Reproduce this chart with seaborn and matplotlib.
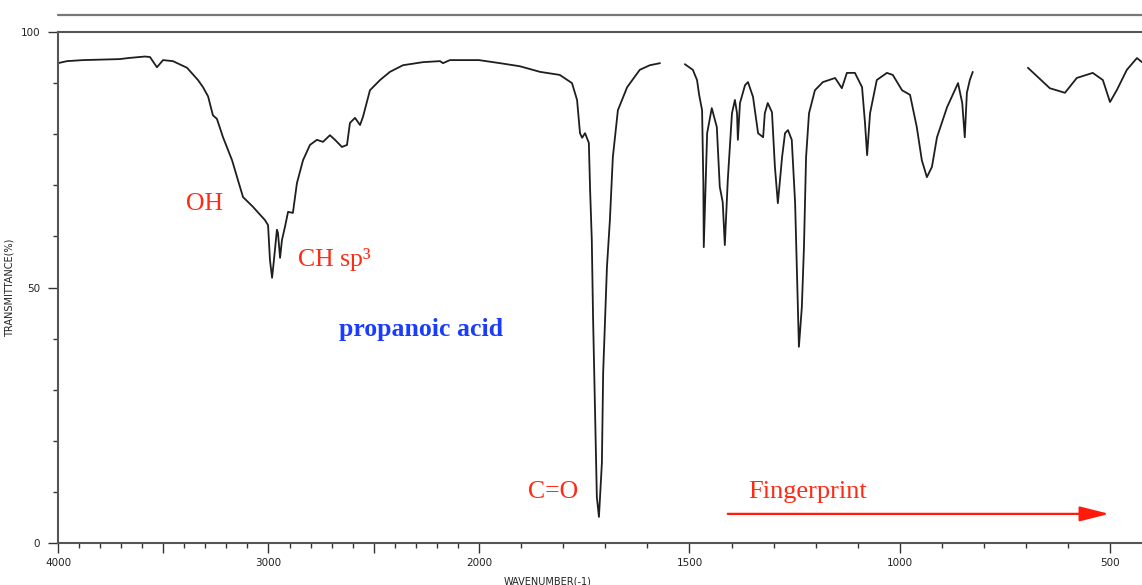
import numpy as np
import pandas as pd
import matplotlib
matplotlib.use("Agg")
import matplotlib.pyplot as plt
import seaborn as sns

# ---- data (wavenumber cm-1, transmittance %) ----
seg1_wn = [4000, 3957, 3881, 3705, 3667, 3587, 3563, 3530, 3501, 3454, 3387, 3335, 3311,
           3287, 3264, 3245, 3216, 3173, 3145, 3121, 3074, 3017, 3002, 2993, 2983, 2974,
           2960, 2955, 2945, 2936, 2922, 2907, 2884, 2865, 2836, 2803, 2770, 2741, 2708,
           2684, 2651, 2627, 2613, 2589, 2565, 2551, 2518, 2470, 2423, 2361, 2266, 2185,
           2171, 2138, 2000, 1950, 1903, 1855, 1808, 1779, 1767, 1760, 1755, 1748, 1739,
           1736, 1732, 1729, 1724, 1720, 1715, 1708, 1705, 1696, 1689, 1682, 1670, 1648,
           1618, 1594, 1570]
seg1_t = [93.9, 94.3, 94.5, 94.7, 94.9, 95.2, 95.1, 93.1, 94.5, 94.3, 93.0, 90.6, 89.2,
          87.4, 83.7, 83.0, 79.4, 74.9, 71.0, 67.7, 65.8, 63.2, 62.2, 55.4, 51.9, 55.4,
          61.3, 60.7, 55.8, 59.3, 61.8, 64.8, 64.6, 70.4, 74.9, 77.9, 78.9, 78.5, 79.8,
          78.9, 77.5, 77.9, 82.2, 83.2, 81.8, 83.4, 88.6, 90.6, 92.2, 93.5, 94.1, 94.3,
          93.9, 94.5, 94.5, 93.9, 93.3, 92.2, 91.6, 90.0, 86.7, 80.2, 79.3, 80.2, 78.3,
          69.1, 59.3, 44.2, 24.7, 9.0, 5.1, 15.7, 33.3, 54.0, 63.2, 75.5, 84.7, 89.2,
          92.6, 93.5, 93.9]

seg2_wn = [1511, 1492, 1482, 1477, 1470, 1467, 1466, 1458, 1447, 1435, 1428, 1421, 1416,
           1409, 1399, 1392, 1387, 1385, 1380, 1368, 1361, 1349, 1337, 1325, 1321, 1314,
           1304, 1297, 1290, 1280, 1273, 1266, 1257, 1249, 1245, 1240, 1233, 1228, 1223,
           1216, 1202, 1183, 1154, 1138, 1126, 1107, 1090, 1083, 1078, 1071, 1055, 1031,
           1017, 995, 976, 960, 948, 936, 924, 912, 888, 862, 852, 846, 841, 834, 827]
seg2_t = [93.7, 92.6, 90.6, 87.7, 84.7, 70.4, 57.9, 80.2, 85.1, 81.4, 69.7, 66.7, 58.3,
          71.0, 84.1, 86.7, 84.1, 78.9, 86.1, 89.6, 90.2, 87.3, 80.2, 79.4, 84.1, 86.1,
          84.3, 73.6, 66.5, 75.5, 80.2, 80.8, 78.9, 66.5, 54.0, 38.4, 46.2, 57.9, 75.5,
          84.1, 88.6, 90.2, 91.0, 89.0, 92.0, 92.0, 89.2, 82.2, 75.9, 84.1, 90.6, 92.0,
          91.6, 88.6, 87.7, 81.4, 74.9, 71.6, 73.6, 79.4, 85.3, 90.0, 86.1, 79.4, 88.1,
          90.6, 92.2]

seg3_wn = [696, 644, 608, 580, 542, 518, 501, 485, 461, 437, 425]
seg3_t = [93.0, 89.0, 88.1, 91.0, 92.0, 90.6, 86.3, 88.6, 92.6, 94.9, 94.1]

x_major = [4000, 3500, 3000, 2500, 2000, 1500, 1000, 500]
x_labels = ["4000", "", "3000", "", "2000", "1500", "1000", "500"]
y_major = [0, 50, 100]

labels = ["OH", "CH sp\u00b3", "C=O", "Fingerprint"]
title_text = "propanoic acid"

df = pd.concat([
    pd.DataFrame({"wn": seg1_wn, "T": seg1_t, "seg": 1}),
    pd.DataFrame({"wn": seg2_wn, "T": seg2_t, "seg": 2}),
    pd.DataFrame({"wn": seg3_wn, "T": seg3_t, "seg": 3}),
], ignore_index=True)

sns.set_theme(style="white")
plt.rcParams["font.family"] = ["DejaVu Sans"]

fig = plt.figure(figsize=(11.42, 5.85), dpi=100)
ax = fig.add_axes([58 / 1142, 42 / 585, 1084 / 1142, 511 / 585])


def fwd(w):
    w = np.asarray(w, dtype=float)
    return np.where(w >= 2000, w / 2 + 1000, w)


def inv(u):
    u = np.asarray(u, dtype=float)
    return np.where(u >= 2000, (u - 1000) * 2, u)


ax.set_xscale("function", functions=(fwd, inv))

sns.lineplot(data=df, x="wn", y="T", units="seg", estimator=None, sort=False,
             color="#1e1e1e", linewidth=1.3, ax=ax, legend=False)

ax.set_xlim(4000, 425)
ax.set_ylim(0, 100)

ax.set_xticks(x_major)
ax.set_xticklabels(x_labels)
ax.set_xticks(np.arange(500, 4000, 100), minor=True)
ax.set_yticks(y_major)
ax.set_yticklabels(["0", "50", "100"])
ax.set_yticks(np.arange(0, 101, 10), minor=True)

tick_col = "#333333"
ax.tick_params(axis="both", which="major", length=7, width=1, color=tick_col,
               labelsize=7.5, labelcolor="#222222", direction="out",
               bottom=True, left=True)
ax.tick_params(axis="both", which="minor", length=3.5, width=1, color=tick_col,
               direction="out", bottom=True, left=True)
ax.tick_params(axis="x", which="major", pad=4)
ax.tick_params(axis="y", which="major", pad=6)

for side in ["left", "bottom", "top"]:
    ax.spines[side].set_visible(True)
    ax.spines[side].set_color("#555555")
    ax.spines[side].set_linewidth(1.5)
ax.spines["right"].set_visible(False)

# extra frame line above plotting area
ax.axhline(103.3, color="#777777", lw=1.6, clip_on=False)

ax.set_xlabel("WAVENUMBER(-1)", fontsize=7, color="#222222")
ax.xaxis.set_label_coords((548 - 58) / 1084, -33 / 511)
ax.set_ylabel("TRANSMITTANCE(%)", fontsize=7, color="#222222")
ax.yaxis.set_label_coords((15 - 58) / 1084, 0.5)

red = "#ff2a14"
serif = ["Liberation Serif", "DejaVu Serif"]
ax.text(3302, 65.2, labels[0], color=red, fontsize=18.5, family=serif,
        ha="center", va="baseline")
ax.text(2860, 54.2, labels[1], color=red, fontsize=18.5, family=serif,
        ha="left", va="baseline")
ax.text(1823, 8.8, labels[2], color=red, fontsize=18.5, family=serif,
        ha="center", va="baseline")
ax.text(1361, 8.8, labels[3], color=red, fontsize=19, family=serif,
        ha="left", va="baseline")
ax.text(2273, 40.5, title_text, color="#1a3cff", fontsize=18.5, family=serif,
        fontweight="bold", ha="center", va="baseline")

ax.annotate("", xy=(503, 5.7), xytext=(1409, 5.7),
            arrowprops=dict(arrowstyle="-|>,head_length=1.5,head_width=0.38",
                            color="#ff1a0a", lw=1.6, shrinkA=0, shrinkB=0))

fig.savefig("out.png", dpi=100)
